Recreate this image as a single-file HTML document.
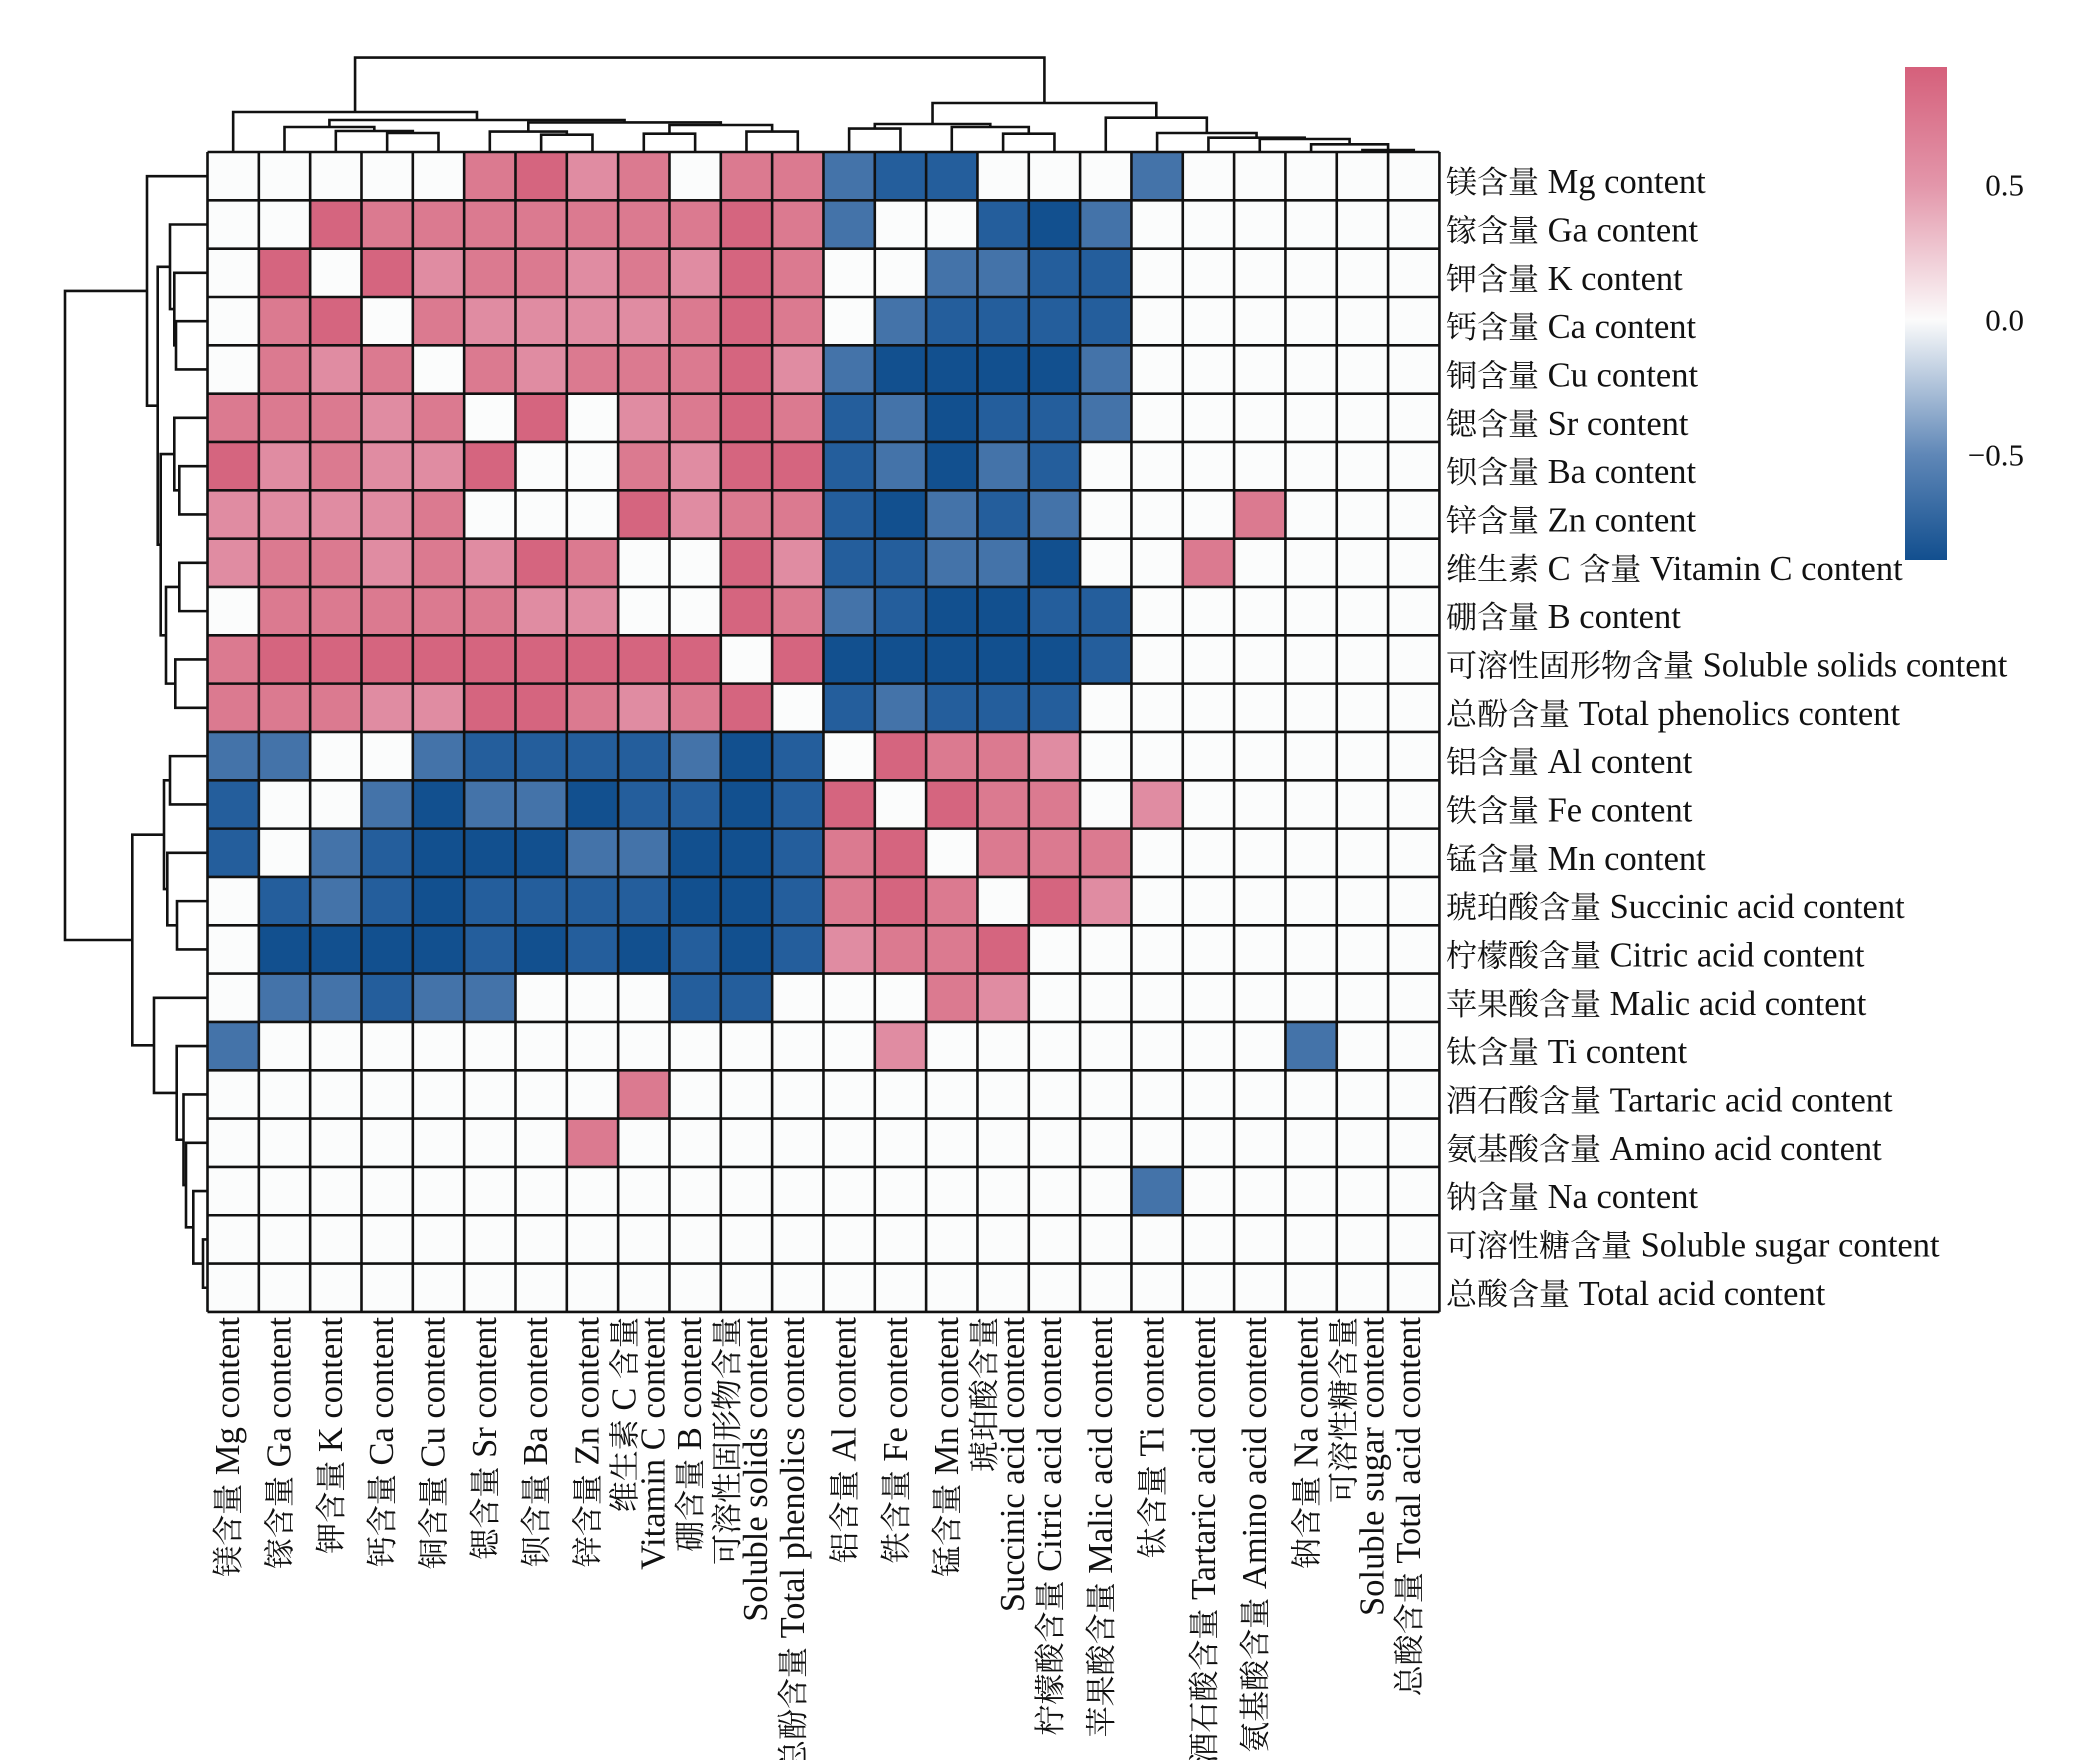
<!DOCTYPE html>
<html><head><meta charset="utf-8">
<style>
html,body{margin:0;padding:0;background:#fff;}
svg{display:block;}
text{font-family:"Liberation Serif","Noto Serif CJK SC","Noto Sans CJK SC",serif;font-size:31px;fill:#111;}
</style></head>
<body>
<svg id="s" width="2084" height="1760" viewBox="0 0 2084 1760" xmlns="http://www.w3.org/2000/svg">
<defs>
<linearGradient id="cb" x1="0" y1="0" x2="0" y2="1">
<stop offset="0" stop-color="#d5607b"/>
<stop offset="0.24" stop-color="#e396aa"/>
<stop offset="0.513" stop-color="#fbfbfb"/>
<stop offset="0.787" stop-color="#5f87b7"/>
<stop offset="1" stop-color="#124f8f"/>
</linearGradient>
</defs>
<g id="cells"></g>
<g id="grid" stroke="#111" stroke-width="2.6"></g>
<g id="dend" fill="none" stroke="#111" stroke-width="2.6"></g>
<rect x="1905" y="67" width="42" height="493" fill="url(#cb)"/>
<g text-anchor="end" dominant-baseline="central" style="font-size:33px">
<text x="2024" y="185">0.5</text>
<text x="2024" y="320">0.0</text>
<text x="2024" y="455">−0.5</text>
</g>
<g class="lab" dominant-baseline="central" transform="translate(0,6)">
<text x="1446" y="176.2">镁含量 Mg content</text>
<text x="1446" y="224.5">镓含量 Ga content</text>
<text x="1446" y="272.8">钾含量 K content</text>
<text x="1446" y="321.2">钙含量 Ca content</text>
<text x="1446" y="369.5">铜含量 Cu content</text>
<text x="1446" y="417.8">锶含量 Sr content</text>
<text x="1446" y="466.2">钡含量 Ba content</text>
<text x="1446" y="514.5">锌含量 Zn content</text>
<text x="1446" y="562.8">维生素 C 含量 Vitamin C content</text>
<text x="1446" y="611.1">硼含量 B content</text>
<text x="1446" y="659.5">可溶性固形物含量 Soluble solids content</text>
<text x="1446" y="707.8">总酚含量 Total phenolics content</text>
<text x="1446" y="756.1">铝含量 Al content</text>
<text x="1446" y="804.5">铁含量 Fe content</text>
<text x="1446" y="852.8">锰含量 Mn content</text>
<text x="1446" y="901.1">琥珀酸含量 Succinic acid content</text>
<text x="1446" y="949.5">柠檬酸含量 Citric acid content</text>
<text x="1446" y="997.8">苹果酸含量 Malic acid content</text>
<text x="1446" y="1046.1">钛含量 Ti content</text>
<text x="1446" y="1094.5">酒石酸含量 Tartaric acid content</text>
<text x="1446" y="1142.8">氨基酸含量 Amino acid content</text>
<text x="1446" y="1191.1">钠含量 Na content</text>
<text x="1446" y="1239.5">可溶性糖含量 Soluble sugar content</text>
<text x="1446" y="1287.8">总酸含量 Total acid content</text>
</g>
<g class="lab" text-anchor="end" dominant-baseline="central" transform="translate(-5,0)">
<text transform="translate(233.2,1317) rotate(-90)">镁含量 Mg content</text>
<text transform="translate(284.5,1317) rotate(-90)">镓含量 Ga content</text>
<text transform="translate(335.8,1317) rotate(-90)">钾含量 K content</text>
<text transform="translate(387.2,1317) rotate(-90)">钙含量 Ca content</text>
<text transform="translate(438.5,1317) rotate(-90)">铜含量 Cu content</text>
<text transform="translate(489.8,1317) rotate(-90)">锶含量 Sr content</text>
<text transform="translate(541.1,1317) rotate(-90)">钡含量 Ba content</text>
<text transform="translate(592.5,1317) rotate(-90)">锌含量 Zn content</text>
<text transform="translate(629.3,1317) rotate(-90)">维生素 C 含量</text>
<text transform="translate(658.3,1317) rotate(-90)">Vitamin C content</text>
<text transform="translate(695.1,1317) rotate(-90)">硼含量 B content</text>
<text transform="translate(732,1317) rotate(-90)">可溶性固形物含量</text>
<text transform="translate(761,1317) rotate(-90)">Soluble solids content</text>
<text transform="translate(798.1,1317) rotate(-90)">总酚含量 Total phenolics content</text>
<text transform="translate(849.4,1317) rotate(-90)">铝含量 Al content</text>
<text transform="translate(900.8,1317) rotate(-90)">铁含量 Fe content</text>
<text transform="translate(952.1,1317) rotate(-90)">锰含量 Mn content</text>
<text transform="translate(989,1317) rotate(-90)">琥珀酸含量</text>
<text transform="translate(1018,1317) rotate(-90)">Succinic acid content</text>
<text transform="translate(1054.8,1317) rotate(-90)">柠檬酸含量 Citric acid content</text>
<text transform="translate(1106.1,1317) rotate(-90)">苹果酸含量 Malic acid content</text>
<text transform="translate(1157.4,1317) rotate(-90)">钛含量 Ti content</text>
<text transform="translate(1208.8,1317) rotate(-90)">酒石酸含量 Tartaric acid content</text>
<text transform="translate(1260.1,1317) rotate(-90)">氨基酸含量 Amino acid content</text>
<text transform="translate(1311.4,1317) rotate(-90)">钠含量 Na content</text>
<text transform="translate(1348.3,1317) rotate(-90)">可溶性糖含量</text>
<text transform="translate(1377.3,1317) rotate(-90)">Soluble sugar content</text>
<text transform="translate(1414.1,1317) rotate(-90)">总酸含量 Total acid content</text>
</g>
</svg>
<script>
(function(){
var NS="http://www.w3.org/2000/svg";
var X0=207.5,CW=51.33,Y0=152,CH=48.33;
var M=[
".....bcab.bbxyy...x.....",
"..cbbbbbbbcbx..yzx......",
".c.cabbabacb..xxyy......",
".bc.baaaabcb.xyyyy......",
".bab.babbbcaxzzzzx......",
"bbbab.c.abcbyxzyyx......",
"cabaac..baccyxzxy.......",
"aaaab...cabbyzxyx...b...",
"abbabacb..cayyxxz..b....",
".bbbbbaa..cbxyzzyy......",
"bccccccccc.czzzzzy......",
"bbbaaccbabc.yxyyy.......",
"xx..xyyyyxzy.cbba.......",
"y..xzxxzyyzyc.cbb.a.....",
"y.xyzzzxxzzybc.bbb......",
".yxyzyyyyzzybcb.ca......",
".zzzzyzyzyzyabbc........",
".xxyxx...yy...ba........",
"x............a.......x..",
"........b...............",
".......b................",
"..................x.....",
"........................",
"........................"];
var C={'.':'#fbfcfc','a':'#e08ca2','b':'#db7a90','c':'#d5657f','x':'#4473a9','y':'#245e9c','z':'#12508f'};
var g=document.getElementById('cells');
for(var r=0;r<24;r++)for(var c=0;c<24;c++){
 var e=document.createElementNS(NS,'rect');
 e.setAttribute('x',X0+c*CW);e.setAttribute('y',Y0+r*CH);
 e.setAttribute('width',CW+0.5);e.setAttribute('height',CH+0.5);
 e.setAttribute('fill',C[M[r][c]]);g.appendChild(e);}
var gr=document.getElementById('grid');
function ln(a,b,c2,d){var e=document.createElementNS(NS,'line');e.setAttribute('x1',a);e.setAttribute('y1',b);e.setAttribute('x2',c2);e.setAttribute('y2',d);gr.appendChild(e);}
for(var i=0;i<=24;i++){ln(X0+i*CW,Y0,X0+i*CW,Y0+24*CH);ln(X0,Y0+i*CH,X0+24*CW,Y0+i*CH);}
var dg=document.getElementById('dend');
function path(d){var e=document.createElementNS(NS,'path');e.setAttribute('d',d);dg.appendChild(e);}
function cx(i){return X0+CW*(i+0.5);}
function ry(i){return Y0+CH*(i+0.5);}
function top(n){ if(typeof n==='number') return {p:cx(n),h:152};
 var L=top(n[1]),R=top(n[2]);
 path('M'+L.p+' '+L.h+'V'+n[0]+'H'+R.p+'V'+R.h);
 return {p:(L.p+R.p)/2,h:n[0]};}
var left=[112,0,[120,[127,1,[131,2,[133,3,4]]],[122.4,[131.6,5,[134.7,6,7]],[125,[133.7,8,9],[131.6,10,11]]]]];
var right=[103,[124,[128.6,12,13],[127,14,[133.7,15,16]]],[117.7,17,[133,18,[137.7,19,[139,20,[144.3,21,[150,22,23]]]]]]];
top([57.6,left,right]);
function side(n){ if(typeof n==='number') return {p:ry(n),h:207.5};
 var A=side(n[1]),B=side(n[2]);
 path('M'+A.h+' '+A.p+'H'+n[0]+'V'+B.p+'H'+B.h);
 return {p:(A.p+B.p)/2,h:n[0]};}
var T=[147,0,[157.7,[170,1,[174.3,2,[176,3,4]]],[160.7,[174.3,5,[179.3,6,7]],[166,[179.3,8,9],[175.3,10,11]]]]];
var Bt=[132.3,[164,[170,12,13],[167.3,14,[177,15,16]]],[154,17,[176.7,18,[183.5,19,[186,20,[193.3,21,[203,22,23]]]]]]];
side([65,T,Bt]);
// larger Latin runs
var ts=document.querySelectorAll('g.lab text');
for(var k=0;k<ts.length;k++){
 var t=ts[k],s=t.textContent,runs=s.match(/[\u3400-\u9fff]+|[^\u3400-\u9fff]+/g);
 t.textContent='';
 for(var j=0;j<runs.length;j++){var sp=document.createElementNS(NS,'tspan');sp.textContent=runs[j];
  sp.setAttribute('style','font-size:'+(/[\u3400-\u9fff]/.test(runs[j])?'31px':'34.5px'));t.appendChild(sp);}
}
})();
</script>
</body></html>
